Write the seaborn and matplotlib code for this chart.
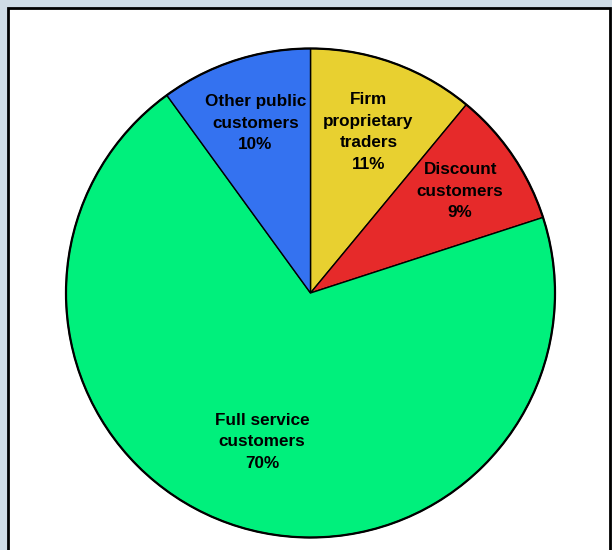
import seaborn as sns
import matplotlib.pyplot as plt
import numpy as np
from matplotlib.patches import Rectangle

sns.set_style("white")
plt.rcParams['font.family'] = ['Liberation Sans', 'DejaVu Sans']

labels = ["Firm\nproprietary\ntraders", "Discount\ncustomers", "Full service\ncustomers", "Other public\ncustomers"]
shares = [11, 9, 70, 10]
colors = ["#e8d030", "#e62a2a", "#00f07c", "#3472f0"]
label_dist = [0.70, 0.74, 0.64, 0.73]

palette = sns.color_palette(colors)

fig = plt.figure(figsize=(6.12, 5.5), dpi=100)
fig.patch.set_facecolor("#cfdce6")

# white panel with dark frame
fig.patches.append(Rectangle((8 / 612, -0.02), 602 / 612, 1 - 8 / 550 + 0.02,
                             transform=fig.transFigure, facecolor="white",
                             edgecolor="black", linewidth=2, zorder=-1))

ax = fig.add_axes([(310.5 - 250) / 612, (550 - 293 - 250) / 550, 500 / 612, 500 / 550])
ax.set_zorder(1)
ax.patch.set_visible(False)

wedges, _ = ax.pie(shares, colors=palette, startangle=90, counterclock=False,
                   wedgeprops=dict(edgecolor="black", linewidth=1.0))

# heavier outer rim
ax.add_patch(plt.Circle((0, 0), 1, fill=False, edgecolor="black", linewidth=1.6))

for w, lab, val, d in zip(wedges, labels, shares, label_dist):
    ang = np.deg2rad((w.theta1 + w.theta2) / 2)
    ax.text(d * np.cos(ang), d * np.sin(ang), f"{lab}\n{val}%",
            ha="center", va="center", fontsize=12.3, fontweight="bold",
            color="black", linespacing=1.55)

lim = 250 / 244.5
ax.set_xlim(-lim, lim)
ax.set_ylim(-lim, lim)
ax.set_aspect("equal")
ax.axis("off")

fig.savefig("out.png", dpi=100, facecolor=fig.get_facecolor())
